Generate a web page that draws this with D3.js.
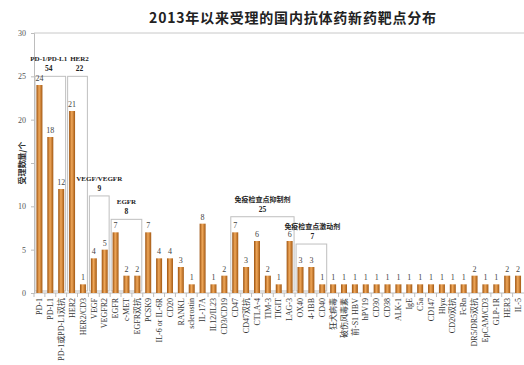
<!DOCTYPE html>
<html>
<head>
<meta charset="utf-8">
<script src="https://cdn.jsdelivr.net/npm/d3@7"></script>
<style>
  body { margin: 0; background: #fff; }
  svg { display: block; }
</style>
</head>
<body>
<div id="content"></div>
<script>
// categories and counts
let targets = [
  "PD-1", "PD-L1", "PD-1或PD-L1双抗", "HER2", "HER2/CD3", "VEGF", "VEGFR2",
  "EGFR", "c-MET", "EGFR双抗", "PCSK9", "IL-6 or IL-6R", "CD20", "RANKL",
  "sclerostin", "IL-17A", "IL12/IL23", "CD3/CD19", "CD47", "CD47双抗",
  "CTLA-4", "TIM-3", "TIGIT", "LAG-3", "OX40", "4-1BB", "CD40", "狂犬病毒",
  "破伤风毒素", "前-S1 HBV", "hPV19", "CD30", "CD38", "ALK-1", "IgE", "C5a",
  "CD147", "Hlyα", "CD20双抗", "FcRn", "DR5/DR5双抗", "EpCAM/CD3", "GLP-1R",
  "HER3", "IL-5"
];
let counts = [
  24, 18, 12, 21, 1, 4, 5,
  7, 2, 2, 7, 4, 4, 3,
  1, 8, 1, 2, 7, 3,
  6, 2, 1, 6, 3, 3, 1, 1,
  1, 1, 1, 1, 1, 1, 1, 1,
  1, 1, 1, 1, 2, 1, 1,
  2, 2
];
let yTicks = [0, 5, 10, 15, 20, 25, 30];

// bracket groups: name, total, first and last target
let groupNames = ["PD-1/PD-L1", "HER2", "VEGF/VEGFR", "EGFR", "免疫检查点抑制剂", "免疫检查点激动剂"];
let groupTotals = [54, 22, 9, 8, 25, 7];
let groupFirst = ["PD-1", "HER2", "VEGF", "EGFR", "CD47", "OX40"];
let groupLast = ["PD-1或PD-L1双抗", "HER2/CD3", "VEGFR2", "EGFR双抗", "LAG-3", "CD40"];
// box heights in y units and label nudges in px (layout only)
let groupTop = [25, 25, 11.2, 8.5, 8.8, 5.65];
let groupDx = [-1.5, 2, 0, 0, 0, 1];

const W = 524, H = 365;
const margin = { top: 33, right: 0.5, bottom: 72, left: 34 };

let svg = d3.select("#content").append("svg")
  .attr("width", W).attr("height", H);

let defs = svg.append("defs");
let grad = defs.append("linearGradient").attr("id", "barGrad")
  .attr("x1", "0%").attr("x2", "100%").attr("y1", "0%").attr("y2", "0%");
grad.append("stop").attr("offset", "0%").attr("stop-color", "#9c520f");
grad.append("stop").attr("offset", "45%").attr("stop-color", "#f0a85a");
grad.append("stop").attr("offset", "100%").attr("stop-color", "#a35812");

let x = d3.scaleBand()
  .domain(targets)
  .range([margin.left, W - margin.right])
  .paddingInner(0.45)
  .paddingOuter(0.225);

let y = d3.scaleLinear()
  .domain([0, 30])
  .range([H - margin.bottom, margin.top]);

// title
svg.append("text")
  .attr("x", 293).attr("y", 23)
  .attr("text-anchor", "middle")
  .attr("font-family", "'Noto Sans CJK SC', sans-serif")
  .attr("font-weight", "bold")
  .attr("font-size", 14)
  .attr("letter-spacing", 0.8)
  .attr("fill", "#222")
  .text("2013年以来受理的国内抗体药新药靶点分布");

// top border of plot
svg.append("line")
  .attr("x1", margin.left).attr("x2", W)
  .attr("y1", y(30)).attr("y2", y(30))
  .attr("stroke", "#c8c8c8");

// y axis
let yAxis = svg.append("g")
  .attr("transform", "translate(" + margin.left + ",0)")
  .call(d3.axisLeft(y).tickValues(yTicks).tickSize(3).tickPadding(5));
yAxis.selectAll("path, line").attr("stroke", "#bdbdbd");
yAxis.selectAll("text")
  .attr("font-family", "'Liberation Serif', serif")
  .attr("font-size", 8)
  .attr("fill", "#555");

svg.append("text")
  .attr("transform", "translate(25," + 163 + ") rotate(-90)")
  .attr("text-anchor", "middle")
  .attr("font-family", "'Noto Sans CJK SC', sans-serif")
  .attr("font-weight", "bold")
  .attr("font-size", 8)
  .attr("fill", "#333")
  .text("受理数量/个");

// x axis with ticks on band edges
let step = x.step();
let edge = function (d) { return x(d) - (step - x.bandwidth()) / 2; };
let xAxis = svg.append("g");
xAxis.append("line")
  .attr("x1", margin.left).attr("x2", W)
  .attr("y1", y(0)).attr("y2", y(0))
  .attr("stroke", "#bdbdbd");
xAxis.selectAll("line.tick")
  .data(targets)
  .enter()
  .append("line")
  .attr("class", "tick")
  .attr("x1", function (d) { return edge(d); })
  .attr("x2", function (d) { return edge(d); })
  .attr("y1", y(0)).attr("y2", y(0) + 4)
  .attr("stroke", "#bdbdbd");
xAxis.selectAll("text")
  .data(targets)
  .enter()
  .append("text")
  .attr("transform", function (d) {
    return "translate(" + (x(d) + x.bandwidth() / 2 + 2.7) + "," + (y(0) + 5) + ") rotate(-90)";
  })
  .attr("text-anchor", "end")
  .attr("font-family", "'Liberation Serif', 'Noto Sans CJK SC', serif")
  .attr("font-size", 8)
  .attr("fill", "#333")
  .text(function (d) { return d; });

// group boxes
let groups = groupNames.map(function (n, i) {
  return { name: n, total: groupTotals[i], a: groupFirst[i], b: groupLast[i], top: groupTop[i], dx: groupDx[i] };
});

let g = svg.selectAll("g.grp").data(groups).enter().append("g").attr("class", "grp");
g.append("rect")
  .attr("x", function (d) { return edge(d.a) + 1; })
  .attr("width", function (d) { return edge(d.b) + step - edge(d.a) - 2; })
  .attr("y", function (d) { return y(d.top); })
  .attr("height", function (d) { return y(0) - 2 - y(d.top); })
  .attr("fill", "none")
  .attr("stroke", "#bfbfbf")
  .attr("stroke-width", 1);

// bars
svg.selectAll("rect.bar")
  .data(counts)
  .enter()
  .append("rect")
  .attr("class", "bar")
  .attr("x", function (d, i) { return x(targets[i]); })
  .attr("width", x.bandwidth())
  .attr("y", function (d) { return y(d); })
  .attr("height", function (d) { return y(0) - y(d); })
  .attr("fill", "url(#barGrad)");

// value labels
svg.selectAll("text.val")
  .data(counts)
  .enter()
  .append("text")
  .attr("class", "val")
  .attr("x", function (d, i) { return x(targets[i]) + x.bandwidth() / 2; })
  .attr("y", function (d) { return y(d) - 4; })
  .attr("text-anchor", "middle")
  .attr("font-family", "'Liberation Serif', serif")
  .attr("font-size", 8)
  .attr("fill", "#444")
  .text(function (d) { return d; });

// group labels
let labelFont = "'Liberation Serif', 'Noto Sans CJK SC', serif";
let midX = function (d) { return (edge(d.a) + edge(d.b) + step) / 2 + d.dx; };
g.append("text")
  .attr("x", midX)
  .attr("y", function (d) { return y(d.top) - 15; })
  .attr("text-anchor", "middle")
  .attr("font-family", labelFont)
  .attr("font-weight", "bold")
  .attr("font-size", 7)
  .attr("fill", "#222")
  .text(function (d) { return d.name; });
g.append("text")
  .attr("x", midX)
  .attr("y", function (d) { return y(d.top) - 5; })
  .attr("text-anchor", "middle")
  .attr("font-family", labelFont)
  .attr("font-weight", "bold")
  .attr("font-size", 7.5)
  .attr("fill", "#222")
  .text(function (d) { return d.total; });
</script>
</body>
</html>
